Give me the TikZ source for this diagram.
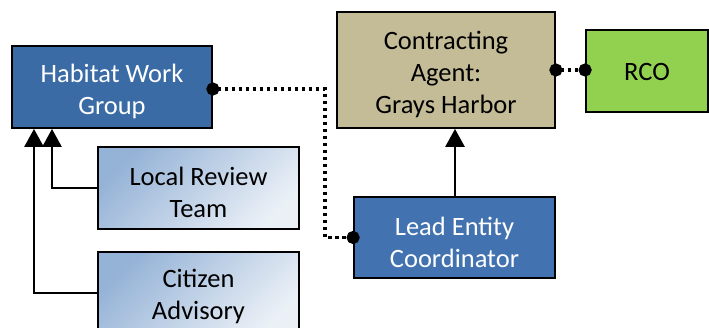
\documentclass[tikz,border=0pt]{standalone}
\usepackage{fontspec}
\setmainfont{Carlito}
\usetikzlibrary{arrows.meta}
\definecolor{hwgblue}{HTML}{3A6BA5}
\definecolor{lecblue}{HTML}{4272B0}
\definecolor{tan}{HTML}{C4BC96}
\definecolor{rcogreen}{HTML}{92D050}
\definecolor{lightA}{HTML}{95B3D7}
\definecolor{lightB}{HTML}{EBF0F7}
\tikzset{
  box/.style={draw=black, line width=1.8pt, rectangle, inner sep=0pt},
  lightbox/.style={box, top color=lightA, bottom color=lightB, shading angle=45},
  lbl/.style={align=center, font=\fontsize{26.5}{32}\selectfont, inner sep=0pt, yshift=-4.5pt},
  wlbl/.style={lbl, text=white},
  feed/.style={line width=2.6pt, -{Triangle[width=19pt,length=18pt]}},
  link/.style={line width=3.6pt, dash pattern=on 3.8pt off 3.2pt,
    {Circle[length=13pt,width=13pt]}-{Circle[length=13pt,width=13pt]},
    shorten <=-6.5pt, shorten >=-6.5pt}
}
\begin{document}
\begin{tikzpicture}[x=1pt,y=-1pt]
\useasboundingbox (0,0) rectangle (709,328);
\clip (0,0) rectangle (709,328);
\node[box, fill=hwgblue, minimum width=200pt, minimum height=82pt] (hwg) at (112,87) {};
\node[wlbl] (hwgt) at (hwg.center) {Habitat Work\\Group};
\node[lightbox, minimum width=201pt, minimum height=82pt] (lrt) at (198.5,188) {};
\node[lbl] (lrtt) at (lrt.center) {Local Review\\Team};
\node[lightbox, minimum width=201pt, minimum height=82pt] (cit) at (198.5,293) {};
\node[lbl, yshift=1pt] (citt) at (cit.center) {Citizen\\Advisory};
\node[box, fill=tan, minimum width=218pt, minimum height=116pt] (ca) at (446,70) {};
\node[lbl] (cat) at (ca.center) {Contracting\\Agent:\\Grays Harbor};
\node[box, fill=rcogreen, minimum width=122pt, minimum height=82pt] (rco) at (647,71) {};
\node[lbl, yshift=4pt] (rcot) at (rco.center) {RCO};
\node[box, fill=lecblue, minimum width=201pt, minimum height=81pt] (lec) at (454.5,237.5) {};
\node[wlbl] (lect) at (lec.center) {Lead Entity\\Coordinator};
\coordinate (jx) at (325,0);
\coordinate (ax1) at (52,0);
\coordinate (ax2) at (34,0);
\coordinate (ax3) at (455,0);
\draw[feed] (lrt.west) -| (lrt.west -| ax1) -- (hwg.south -| ax1);
\draw[feed] (cit.west) -| (hwg.south -| ax2);
\draw[feed] (lec.north -| ax3) -- (ca.south -| ax3);
\draw[link] (hwg.east |- 0,89) -- (jx |- 0,89) |- (lec.west);
\draw[link] (ca.east) -- (rco.west |- ca.east);
\end{tikzpicture}
\end{document}
